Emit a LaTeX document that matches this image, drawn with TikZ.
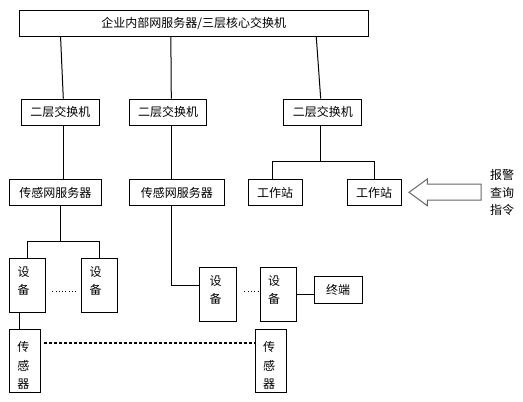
\documentclass[tikz,border=0pt]{standalone}
\usepackage{fontspec}
\setmainfont{Noto Sans CJK SC}
\begin{document}
\begin{tikzpicture}[x=1pt,y=-1pt,
  box/.style={draw,line width=1pt,inner sep=0pt,font=\fontsize{12pt}{14pt}\selectfont},
  hbox/.style={box,minimum height=25.5pt},
  vbox/.style={box},
  vtext/.style={inner sep=0pt,align=center,font=\fontsize{12pt}{18pt}\selectfont},
  conn/.style={line width=1pt},
  dots/.style={line width=1pt,dash pattern=on 1pt off 2.3pt},
  thickdash/.style={line width=2pt,dash pattern=on 3pt off 2pt},
  bigarrow/.style={draw=gray!80!black,line width=1pt,fill=white}]
\useasboundingbox (0,0) rectangle (523,402);
% top
\node[hbox,minimum width=348.7pt] (top) at (193.7,23.3) {企业内部网服务器/三层核心交换机};
% switches
\node[hbox,minimum width=77.6pt,minimum height=26.3pt] (sw1) at (60.5,112.2) {二层交换机};
\node[hbox,minimum width=77.4pt,minimum height=26.3pt] (sw2) at (168,112.2) {二层交换机};
\node[hbox,minimum width=77.7pt,minimum height=26.3pt] (sw3) at (322.8,112.2) {二层交换机};
% servers & workstations
\node[hbox,minimum width=92.4pt] (srv1) at (55.5,192.7) {传感网服务器};
\node[hbox,minimum width=95pt] (srv2) at (176.8,192.7) {传感网服务器};
\node[hbox,minimum width=53.7pt] (ws1) at (275.2,192.7) {工作站};
\node[hbox,minimum width=53.7pt] (ws2) at (374.2,192.7) {工作站};
% devices
\node[vbox,minimum width=36pt,minimum height=54pt] (dev1) at (27.3,285.3) {};
\node[vbox,minimum width=36pt,minimum height=54pt] (dev2) at (99.3,285.3) {};
\node[vbox,minimum width=36.7pt,minimum height=54pt] (dev3) at (218.3,294.3) {};
\node[vbox,minimum width=35.7pt,minimum height=54pt] (dev4) at (278.2,294.3) {};
\node[vtext] (dev1t) at (23.5,281) {设\\备};
\node[vtext] (dev2t) at (95.5,281) {设\\备};
\node[vtext] (dev3t) at (215.5,290) {设\\备};
\node[vtext] (dev4t) at (274.2,290) {设\\备};
\node[hbox,minimum width=48pt,minimum height=27pt] (term) at (338,289.8) {终端};
% sensors
\node[vbox,minimum width=31.4pt,minimum height=62.7pt] (sen1) at (25,361.3) {};
\node[vbox,minimum width=30.7pt,minimum height=62.7pt] (sen2) at (270.7,361.3) {};
\node[vtext,font=\fontsize{12pt}{18.8pt}\selectfont] (sen1t) at (23.3,365.5) {传\\感\\器};
\node[vtext,font=\fontsize{12pt}{18.8pt}\selectfont] (sen2t) at (269,365.5) {传\\感\\器};
% command text
\node[align=left,inner sep=0pt,font=\fontsize{12pt}{17.5pt}\selectfont] (cmd) at (502,192.7) {报警\\查询\\指令};
% connectors top
\draw[conn] ([xshift=41.7pt]top.south west) -- ([xshift=2.8pt]sw1.north);
\draw[conn] ([xshift=152pt]top.south west) -- ([xshift=3.3pt]sw2.north);
\draw[conn] ([xshift=297.4pt]top.south west) -- ([xshift=-2.1pt]sw3.north);
% switches to servers
\draw[conn] ([xshift=2.8pt]sw1.south) -- ([xshift=2.8pt]sw1.south |- srv1.north);
\draw[conn] ([xshift=3.3pt]sw2.south) -- ([xshift=3.3pt]sw2.south |- srv2.north);
\coordinate (j3) at (320.7,161.7);
\draw[conn] ([xshift=-2.1pt]sw3.south) -- (j3);
\draw[conn] ([xshift=-2.9pt]ws1.north) |- (j3) -| (ws2.north);
% server1 to devices
\coordinate (j1) at (60.3,241.7);
\draw[conn] ([xshift=4.8pt]srv1.south) -- (j1);
\draw[conn] (dev1.north) |- (j1) -| (dev2.north);
% server2 to device3
\draw[conn] ([xshift=-5.5pt]srv2.south) |- ([yshift=9pt]dev3.west);
% device4 to terminal
\draw[conn] (dev4.east) -- (dev4.east -| term.west);
% device1 to sensor1
\draw[conn] ([xshift=-8pt]dev1.south) -- ([xshift=-8pt]dev1.south |- sen1.north);
% dots
\draw[dots] ([yshift=-5.7pt,xshift=6.4pt]dev1.east) -- ([yshift=-5.7pt,xshift=-4pt]dev2.west);
\draw[dots] ([yshift=3.3pt,xshift=7.3pt]dev3.east) -- ([yshift=3.3pt,xshift=-2pt]dev4.west);
% sensor dashed
\draw[thickdash] ([yshift=18.6pt,xshift=2.6pt]sen1.east) -- ([yshift=18.6pt]sen2.west);
% big arrow
\coordinate (atip) at (409,192.3);
\draw[bigarrow] (atip) -- (427.3,179) -- (427.3,184) -- (481,184) -- (481,200) -- (427.3,200) -- (427.3,205.7) -- cycle;
\end{tikzpicture}
\end{document}
